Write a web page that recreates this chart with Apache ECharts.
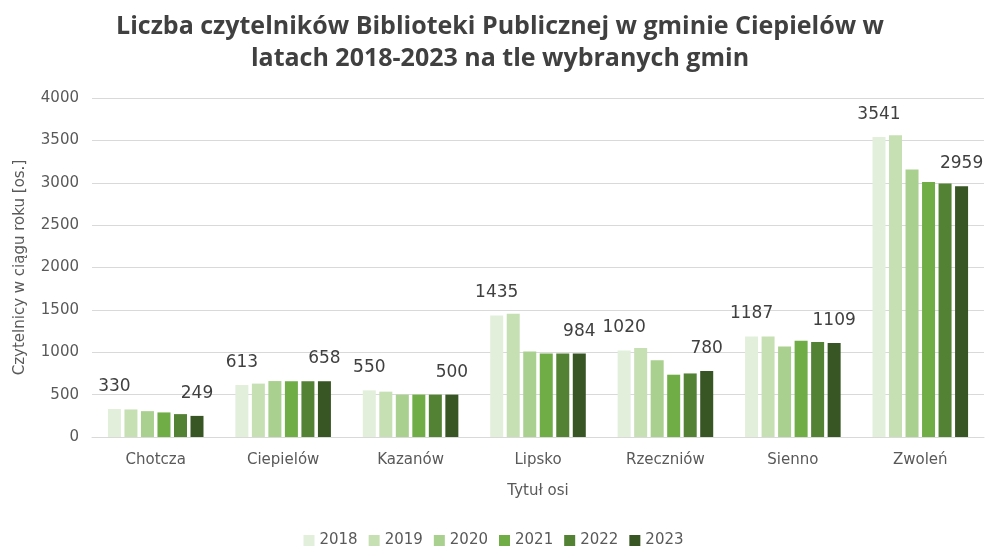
<!DOCTYPE html>
<html><head><meta charset="utf-8">
<script src="https://cdn.jsdelivr.net/npm/echarts@6/dist/echarts.min.js"></script>
<style>html,body{margin:0;padding:0;background:#fff}#c{width:987px;height:547px}</style>
</head><body><div id="c"></div>
<script>
var categories = ['Chotcza','Ciepielów','Kazanów','Lipsko','Rzeczniów','Sienno','Zwoleń'];
var years = ['2018','2019','2020','2021','2022','2023'];
var v2018 = [330, 613, 550, 1435, 1020, 1187, 3541];
var v2019 = [325, 630, 535, 1455, 1050, 1187, 3560];
var v2020 = [305, 660, 500, 1010, 905, 1067, 3155];
var v2021 = [290, 658, 500, 984, 735, 1137, 3010];
var v2022 = [270, 658, 500, 984, 750, 1120, 2990];
var v2023 = [249, 658, 500, 984, 780, 1109, 2959];
var yTicks = [0, 500, 1000, 1500, 2000, 2500, 3000, 3500, 4000];
var colors = ['#E2EFDA','#C6E0B4','#A9D08E','#70AD47','#548235','#375623'];
var values = [v2018, v2019, v2020, v2021, v2022, v2023];
var font = '"DejaVu Sans", "Open Sans", sans-serif';
var titleFont = '"Open Sans", "DejaVu Sans", sans-serif';
var series = years.map(function(y, i){
  var showLbl = (i === 0 || i === 5);
  return {
    name: y, type: 'bar', data: values[i],
    barGap: '27%', barCategoryGap: '25%',
    itemStyle: {color: colors[i]},
    label: {show: showLbl, position: 'top', distance: 14, color: '#404040', fontSize: 17, fontFamily: font}
  };
});
var chart = echarts.init(document.getElementById('c'));
chart.setOption({
  animation: false,
  color: colors,
  title: {
    text: 'Liczba czytelników Biblioteki Publicznej w gminie Ciepielów w\nlatach 2018-2023 na tle wybranych gmin',
    left: 495, top: 6, textAlign: 'center',
    textStyle: {fontFamily: titleFont, fontSize: 25, fontWeight: 'bold', color: '#404040', lineHeight: 32}
  },
  legend: {
    data: years, top: 528, left: 'center', itemWidth: 11, itemHeight: 11, itemGap: 11,
    icon: 'rect',
    textStyle: {fontFamily: font, fontSize: 15, color: '#595959'}
  },
  grid: {left: 92, right: 3, top: 98, bottom: 110},
  xAxis: {
    type: 'category', data: categories,
    name: 'Tytuł osi', nameLocation: 'middle', nameGap: 47,
    nameTextStyle: {fontFamily: font, fontSize: 15, color: '#595959'},
    axisLine: {lineStyle: {color: '#D9D9D9'}},
    axisTick: {show: false},
    axisLabel: {fontFamily: font, fontSize: 15, color: '#595959', margin: 16}
  },
  yAxis: {
    type: 'value', min: yTicks[0], max: yTicks[yTicks.length-1], interval: 500,
    name: 'Czytelnicy w ciągu roku [os.]', nameLocation: 'middle', nameGap: 64, nameRotate: 90,
    nameTextStyle: {fontFamily: font, fontSize: 15, color: '#595959'},
    axisLine: {show: false}, axisTick: {show: false},
    axisLabel: {fontFamily: font, fontSize: 15, color: '#595959', margin: 13, formatter: function(v){ return String(v); }},
    splitLine: {lineStyle: {color: '#D9D9D9'}}
  },
  series: series
});
</script></body></html>
